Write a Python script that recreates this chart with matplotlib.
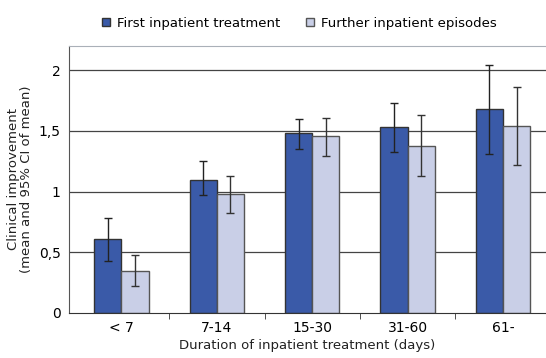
import matplotlib.pyplot as plt
import numpy as np

categories = ["< 7", "7-14", "15-30", "31-60", "61-"]
first_mean = [0.61, 1.10, 1.48, 1.53, 1.68]
first_lo = [0.43, 0.97, 1.35, 1.33, 1.31]
first_hi = [0.78, 1.25, 1.60, 1.73, 2.04]
further_mean = [0.35, 0.98, 1.46, 1.38, 1.54]
further_lo = [0.22, 0.82, 1.29, 1.13, 1.22]
further_hi = [0.48, 1.13, 1.61, 1.63, 1.86]

dark = "#3a5aa8"
light = "#c9cfe7"

fig = plt.figure(figsize=(5.46, 3.58), dpi=100)
ax = fig.add_axes([69/546, 1-313/358, 1-69/546, (313-46)/358])

x = np.arange(len(categories))
w = 0.285
fm = np.array(first_mean)
um = np.array(further_mean)
ferr = [fm - np.array(first_lo), np.array(first_hi) - fm]
uerr = [um - np.array(further_lo), np.array(further_hi) - um]

for yv in [0.5, 1, 1.5, 2]:
    ax.axhline(yv, color="#444444", lw=0.9, zorder=0)

ax.bar(x - w/2, fm, w, color=dark, edgecolor="#333333", lw=1.0,
       label="First inpatient treatment", zorder=2)
ax.bar(x + w/2, um, w, color=light, edgecolor="#555555", lw=1.0,
       label="Further inpatient episodes", zorder=2)
ax.errorbar(x - w/2, fm, yerr=ferr, fmt="none", ecolor="#222222",
            elinewidth=1.0, capsize=3, capthick=1.0, zorder=3)
ax.errorbar(x + w/2, um, yerr=uerr, fmt="none", ecolor="#333333",
            elinewidth=1.0, capsize=3, capthick=1.0, zorder=3)

ax.set_xlim(-0.55, 4.45)
ax.set_ylim(0, 2.2)
ax.set_yticks([0, 0.5, 1, 1.5, 2])
ax.set_yticklabels(["0", "0,5", "1", "1,5", "2"], fontsize=10)
ax.set_xticks(x)
ax.set_xticklabels(categories, fontsize=10)
ax.tick_params(axis="x", length=0, pad=6)
ax.tick_params(axis="y", length=0, pad=6)
ax.set_xticks(x[:-1] + 0.5, minor=True)
ax.tick_params(axis="x", which="minor", length=4, direction="out", color="#333333")

ax.spines["right"].set_visible(False)
ax.spines["top"].set_color("#aab0b8")
ax.spines["left"].set_color("#555555")
ax.spines["bottom"].set_color("#333333")

ax.set_ylabel("Clinical improvement\n(mean and 95% CI of mean)", fontsize=9.5,
              color="#222222", labelpad=4, linespacing=1.05)
ax.set_xlabel("Duration of inpatient treatment (days)", fontsize=9.5,
              color="#222222", labelpad=3)

fig.legend(loc="center", bbox_to_anchor=(0.548, 0.935), ncol=2, frameon=False,
           fontsize=9.5, handlelength=0.6, handleheight=0.6, columnspacing=2.0,
           handletextpad=0.5)

fig.savefig("out.png", dpi=100)
